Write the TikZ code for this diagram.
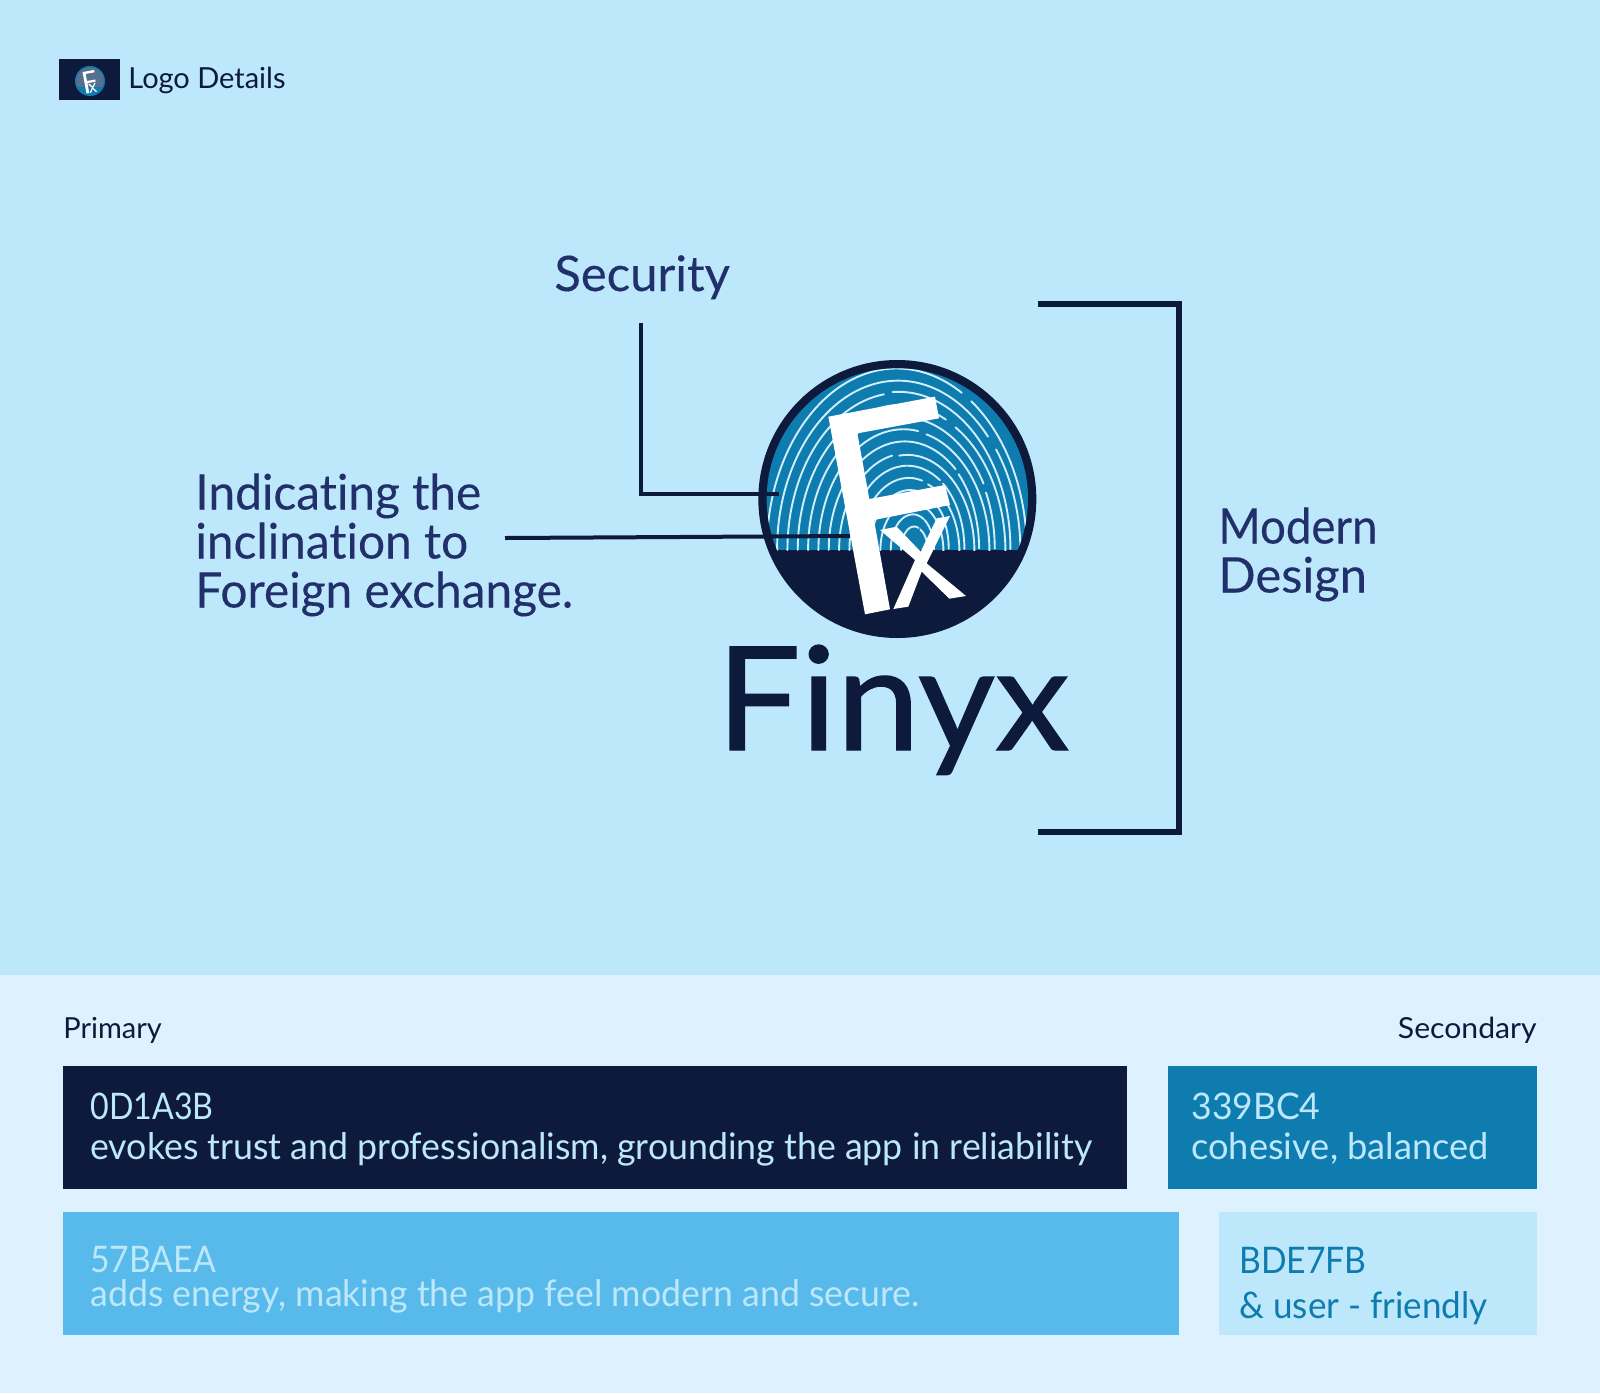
\documentclass[tikz,border=0pt]{standalone}
\usepackage{graphicx}
\usepackage{fontspec}
\setmainfont{Lato}[Ligatures=NoCommon]
\newfontfamily\heavierfont{Lato}[Ligatures=NoCommon,FakeBold=0.25]
\newfontfamily\wordmarkfont{Lato}[Ligatures=NoCommon,FakeBold=0.9]
\newcommand{\hfit}[2]{\scalebox{#1}[1]{#2}}
\definecolor{navy}{HTML}{0D1A3B}
\definecolor{deepblue}{HTML}{0F7CAF}
\definecolor{midblue}{HTML}{57BAEA}
\definecolor{paleblue}{HTML}{BDE7FB}
\definecolor{bandblue}{HTML}{DDF2FE}
\definecolor{labelblue}{HTML}{21306A}
\definecolor{smallfill}{HTML}{56708F}
\newcommand{\fxletters}{%
  \fill[white] (265,200)--(585,140)--(597,205)--(352,250)--(388,447)--(615,405)--(630,465)--(402,510)--(450,778)--(375,793)--cycle;
  \fill[white] (420,540)--(470,530)--(542,605)--(590,505)--(630,498)--(560,640)--(678,738)--(628,746)--(545,665)--(505,770)--(460,777)--(525,630)--cycle;
}
\tikzset{
  lbl/.style={anchor=base west,inner sep=0pt,text=labelblue,font=\heavierfont\fontsize{24.5}{24.5}\selectfont,align=left},
  swtext/.style={anchor=base west,inner sep=0pt,font=\fontsize{18.3}{20}\selectfont},
  small/.style={anchor=base west,inner sep=0pt,text=navy,font=\fontsize{14.5}{16}\selectfont},
  conn/.style={draw=navy,line width=2pt},
  ridge/.style={draw=paleblue!70!white,line width=0.95pt,line cap=round},
}
\begin{document}
\begin{tikzpicture}[x=0.5pt,y=-0.5pt]
\useasboundingbox (0,0) rectangle (1600,1393);
\fill[paleblue] (0,0) rectangle (1600,975);
\fill[bandblue] (0,975) rectangle (1600,1393);
% small logo
\fill[navy] (59,59) rectangle (120,100);
\begin{scope}[shift={(90,81)},scale=0.036,shift={(-472,-447)}]
  \fill[deepblue] (472,447) circle [radius=417];
  \begin{scope}
    \clip (472,447) circle [radius=380];
    \fill[smallfill] (0,0) rectangle (900,600);
  \end{scope}
  \fxletters
\end{scope}
\node[small] (logotitle) at (128,88) {Logo Details};
% main logo
\begin{scope}[shift={(740,350)},scale=1/3]
  \fill[navy] (472,447) circle [radius=417];
  \begin{scope}
    \clip (472,447) circle [radius=392];
    \clip (0,0) rectangle (900,600);
    \fill[deepblue] (0,0) rectangle (900,600);
    % each ridge: half width, angle where it breaks, offset of its right-hand part
    \foreach \a/\g/\d in {390/300/0,363/318/4,336/262/-3,309/296/5,282/330/-4,255/280/3,228/312/-5,201/258/4,174/304/-3,147/286/5,120/326/-4,93/272/3,66/300/-2,39/290/2}{
      \pgfmathsetmacro{\cx}{528-0.148*\a}
      \pgfmathsetmacro{\b}{1.35*\a+18}
      \pgfmathsetmacro{\gs}{\g+5}
      \draw[ridge] (\cx-\a,600) arc[start angle=180,end angle=\g,x radius=\a,y radius=\b];
      \draw[ridge,shift={(\d,\d)}] ({\cx+\a*cos(\gs)},{600+\b*sin(\gs)}) arc[start angle=\gs,end angle=360,x radius=\a,y radius=\b];
    }
  \end{scope}
\end{scope}
\coordinate (secturn) at (641,494);
\coordinate (secend) at (779,494);
\coordinate (foreignstart) at (505,538);
\coordinate (foreignend) at (850,536);
\coordinate (sectop) at (641,323);
\draw[conn,line join=miter] (sectop) -- (secturn) -- (secend);
\draw[conn] (foreignstart) -- (foreignend);
\begin{scope}[shift={(740,350)},scale=1/3]
  \fxletters
\end{scope}
\coordinate (brTL) at (1038,304);
\coordinate (brTR) at (1179,304);
\coordinate (brBR) at (1179,832);
\coordinate (brBL) at (1038,832);
\draw[navy,line width=2.8pt,line join=miter] (brTL) -- (brTR) -- (brBR) -- (brBL);
\node[lbl] (security) at (554,291) {Security};
\node[lbl,anchor=north west] (indicating) at (195,473) {\setlength{\baselineskip}{24.5pt}\hfit{0.976}{Indicating the}\\\hfit{0.976}{inclination to}\\\hfit{0.976}{Foreign exchange.}};
\node[lbl,anchor=north west] (modern) at (1218,507) {\setlength{\baselineskip}{24.5pt}\hfit{0.93}{Modern}\\Design};
\node[anchor=base west,inner sep=0pt,text=navy,font=\wordmarkfont\fontsize{72}{72}\selectfont] (finyx) at (716,750) {\hfit{1.037}{Finyx}};
% bottom
\node[small] (primary) at (63,1038) {Primary};
\node[small,anchor=base east] (secondary) at (1537,1038) {\hfit{1.04}{Secondary}};
\fill[navy] (63,1066) rectangle (1127,1189);
\fill[deepblue] (1168,1066) rectangle (1537,1189);
\fill[midblue] (63,1212) rectangle (1179,1335);
\fill[paleblue] (1219,1212) rectangle (1537,1335);
\node[swtext,text=paleblue] (t1a) at (90,1119) {\hfit{0.88}{0D1A3B}};
\node[swtext,text=paleblue] (t1b) at (90,1159) {\hfit{0.976}{evokes trust and professionalism, grounding the app in reliability}};
\node[swtext,text=paleblue] (t2a) at (1191,1119) {\hfit{0.97}{339BC4}};
\node[swtext,text=paleblue] (t2b) at (1191,1159) {\hfit{0.99}{cohesive, balanced}};
\node[swtext,text=paleblue] (t3a) at (90,1272) {\hfit{0.92}{57BAEA}};
\node[swtext,text=paleblue] (t3b) at (90,1306) {\hfit{0.975}{adds energy, making the app feel modern and secure.}};
\node[swtext,text=deepblue] (t4a) at (1239,1273) {\hfit{0.92}{BDE7FB}};
\node[swtext,text=deepblue] (t4b) at (1239,1318) {\hfit{0.957}{\& user - friendly}};
\end{tikzpicture}
\end{document}
